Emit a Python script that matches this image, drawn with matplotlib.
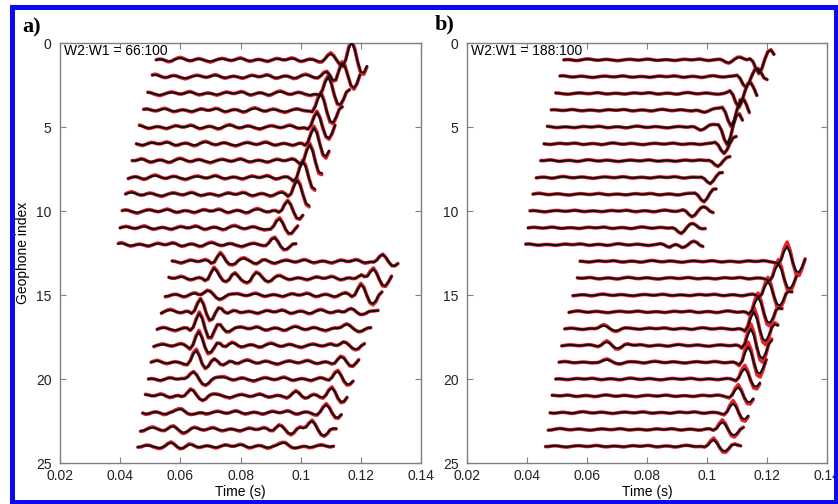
import numpy as np
import matplotlib
matplotlib.use("Agg")
import matplotlib.pyplot as plt
from matplotlib.patches import Rectangle

plt.rcParams['font.family'] = ['Liberation Sans', 'DejaVu Sans']

# data ---------------------------------------------------
DT = 0.001  # trace sampling (s)

# one wavelet, sampled every DT, peak at index 4
WAVELET = [-0.05, -0.15, 0.10, 0.65, 1.00, 0.60, -0.10, -0.65, -0.75, -0.40, 0.10, 0.28, 0.18, 0.05]
WAVELET_PEAK = 4

# small background wiggle, sampled every DT (shifted for each trace)
RIPPLE = [0.00, 0.04, 0.08, 0.05, -0.02, -0.07, -0.05, 0.00, 0.03, 0.02,
          -0.03, -0.08, -0.06, 0.01, 0.07, 0.10, 0.06, 0.00, -0.04, -0.03,
          0.02, 0.05, 0.03, -0.02, -0.06, -0.09, -0.05, 0.00, 0.04, 0.06,
          0.03, -0.01, -0.03, 0.00, 0.05, 0.08, 0.04, -0.02, -0.06, -0.04,
          0.00, 0.02, 0.00, -0.04, -0.07, -0.03, 0.02, 0.06, 0.04, 0.00]

geophones_top = list(range(1, 13))
geophones_bot = list(range(13, 25))

# panel a) W2:W1 = 66:100
a_start_top = [0.0520, 0.0507, 0.0492, 0.0478, 0.0464, 0.0454, 0.0440, 0.0427, 0.0418, 0.0407, 0.0400, 0.0394]
a_end_top = [0.1220, 0.1198, 0.1164, 0.1142, 0.1118, 0.1092, 0.1073, 0.1048, 0.1029, 0.1009, 0.0992, 0.0981]
a_event_top = [0.1173, 0.1135, 0.1095, 0.1072, 0.1057, 0.1042, 0.1026, 0.1008, 0.0986, 0.0956, 0.0928, 0.0912]
a_amp_top = [0.95, 0.90, 1.00, 1.00, 0.95, 0.90, 0.90, 0.85, 0.80, 0.70, 0.50, 0.35]

a_start_bot = [0.0573, 0.0562, 0.0550, 0.0537, 0.0523, 0.0512, 0.0503, 0.0494, 0.0484, 0.0475, 0.0468, 0.0459]
a_end_bot = [0.1320, 0.1298, 0.1274, 0.1253, 0.1231, 0.1209, 0.1192, 0.1170, 0.1153, 0.1137, 0.1114, 0.1109]
a_early_bot = [0.0737, 0.0715, 0.0693, 0.0670, 0.0664, 0.0658, 0.0653, 0.0648, 0.0631, 0.0605, 0.0580, 0.0570]
a_early_amp = [0.50, 0.60, 0.30, 0.85, 0.90, 0.80, 0.65, 0.50, 0.45, 0.20, 0.15, 0.15]
a_late_bot = [0.1276, 0.1242, 0.1198, 0.1164, 0.1153, 0.1145, 0.1137, 0.1120, 0.1103, 0.1087, 0.1042, 0.0945]
a_late_amp = [0.50, 0.70, 0.60, 0.30, 0.30, 0.25, 0.30, 0.40, 0.45, 0.35, 0.55, 0.20]

# extra smaller arrivals: (geophone, time, amplitude)
a_extra = [(1, 0.1098, 0.25), (2, 0.1085, 0.25), (13, 0.0770, 0.30), (13, 0.0815, 0.20),
           (14, 0.0750, 0.30), (14, 0.0785, 0.30), (14, 0.0850, 0.25), (14, 0.1200, 0.30),
           (16, 0.0715, 0.25), (17, 0.0710, 0.30), (18, 0.0705, 0.25), (19, 0.0700, 0.25),
           (23, 0.0930, 0.25), (21, 0.0980, 0.20)]

# panel b) W2:W1 = 188:100
b_start_top = [0.0523, 0.0510, 0.0496, 0.0481, 0.0468, 0.0457, 0.0446, 0.0431, 0.0420, 0.0410, 0.0404, 0.0396]
b_end_top = [0.1223, 0.1198, 0.1168, 0.1142, 0.1118, 0.1096, 0.1073, 0.1051, 0.1032, 0.1016, 0.0998, 0.0987]
b_event_top = [0.1170, 0.1135, 0.1102, 0.1080, 0.1063, 0.1052, 0.1036, 0.1010, 0.0986, 0.0952, 0.0919, 0.0913]
b_amp_top = [-0.80, -0.60, -0.80, -0.90, -1.00, -0.60, -0.35, -0.40, -0.45, -0.30, -0.35, -0.30]

b_start_bot = [0.0577, 0.0568, 0.0553, 0.0540, 0.0526, 0.0516, 0.0507, 0.0496, 0.0484, 0.0477, 0.0471, 0.0462]
b_end_bot = [0.1324, 0.1302, 0.1279, 0.1252, 0.1236, 0.1213, 0.1196, 0.1179, 0.1158, 0.1141, 0.1124, 0.1111]
b_event_bot = [0.1270, 0.1243, 0.1204, 0.1174, 0.1160, 0.1149, 0.1136, 0.1124, 0.1104, 0.1082, 0.1052, 0.1024]
b_amp_bot = [0.90, 0.80, 0.80, 0.90, 1.00, 1.00, 0.90, 0.60, 0.50, 0.50, 0.45, 0.40]

b_extra = [(1, 0.1070, -0.15), (4, 0.0995, -0.15), (5, 0.0975, -0.20), (17, 0.0660, 0.20),
           (18, 0.0665, 0.20), (19, 0.0665, 0.15), (12, 0.0880, -0.15)]

# red (second) trace gain per group
a_red_gain = 1.10
b_red_gain_top = 1.05
b_red_gain_bot = 1.30

x_ticks = [0.02, 0.04, 0.06, 0.08, 0.10, 0.12, 0.14]
x_labels = ['0.02', '0.04', '0.06', '0.08', '0.1', '0.12', '0.14']
y_ticks = [0, 5, 10, 15, 20, 25]
y_labels = ['0', '5', '10', '15', '20', '25']


def add_event(trace, start, t_event, amp):
    i0 = int(round((t_event - start) / DT)) - WAVELET_PEAK
    for k, w in enumerate(WAVELET):
        j = i0 + k
        if 0 <= j < len(trace):
            trace[j] += amp * w


def build_trace(geo, start, end, events, extras, ripple_scale):
    n = int(round((end - start) / DT)) + 1
    t = start + DT * np.arange(n)
    main = np.zeros(n)
    for t_ev, amp in events:
        add_event(main, start, t_ev, amp)
    for g, t_ev, amp in extras:
        if g == geo:
            add_event(main, start, t_ev, amp)
    noise = np.array([RIPPLE[(k + 7 * geo) % len(RIPPLE)] for k in range(n)]) * ripple_scale
    return t, main, noise


def draw_group(ax, geos, starts, ends, event_lists, extras, ripple_scale, red_gain):
    for idx, geo in enumerate(geos):
        events = [(ev[0][idx], ev[1][idx]) for ev in event_lists]
        t, main, noise = build_trace(geo, starts[idx], ends[idx], events, extras, ripple_scale)
        red = main * red_gain + noise * 1.35
        black = main + noise
        ax.plot(t, geo - red, color='#e8202a', lw=2.6, solid_capstyle='round', zorder=2)
        ax.plot(t, geo - black, color='#111111', lw=1.5, zorder=3)


def style_axes(ax, label_text, ylabel):
    ax.set_xlim(0.02, 0.14)
    ax.set_ylim(25, 0)
    ax.set_xticks(x_ticks)
    ax.set_xticklabels(x_labels)
    ax.set_yticks(y_ticks)
    ax.set_yticklabels(y_labels)
    ax.tick_params(direction='in', top=True, right=True, length=4, width=0.8,
                   color='#808080', labelsize=10, labelcolor='#222222')
    ax.tick_params(axis='x', pad=4)
    ax.tick_params(axis='y', pad=6)
    for s in ax.spines.values():
        s.set_color('#808080')
        s.set_linewidth(1.0)
    ax.set_xlabel('Time (s)', fontsize=10, labelpad=2)
    if ylabel:
        ax.set_ylabel('Geophone index', fontsize=10, labelpad=4)
    ax.text(0.011, 0.997, label_text, transform=ax.transAxes, va='top', ha='left', fontsize=10)


fig = plt.figure(figsize=(8.38, 5.04), dpi=100)
ax1 = fig.add_axes([0.0716, 0.0813, 0.4308, 0.8333])
ax2 = fig.add_axes([0.5573, 0.0813, 0.4296, 0.8333])

draw_group(ax1, geophones_top, a_start_top, a_end_top,
           [(a_event_top, a_amp_top)], a_extra, 1.1, a_red_gain)
draw_group(ax1, geophones_bot, a_start_bot, a_end_bot,
           [(a_early_bot, a_early_amp), (a_late_bot, a_late_amp)], a_extra, 1.1, a_red_gain)
draw_group(ax2, geophones_top, b_start_top, b_end_top,
           [(b_event_top, b_amp_top)], b_extra, 0.45, b_red_gain_top)
draw_group(ax2, geophones_bot, b_start_bot, b_end_bot,
           [(b_event_bot, b_amp_bot)], b_extra, 0.45, b_red_gain_bot)

style_axes(ax1, 'W2:W1 = 66:100', True)
style_axes(ax2, 'W2:W1 = 188:100', False)

fig.text(22 / 838, 1 - 27 / 504, 'a)', fontsize=16, fontweight='bold',
         family='Liberation Serif', va='center', ha='left')
fig.text(435 / 838, 1 - 24 / 504, 'b)', fontsize=16, fontweight='bold',
         family='Liberation Serif', va='center', ha='left')

# blue frame round the figure
fig.patches.append(Rectangle((11.5 / 838, 2.5 / 504), (835.5 - 11.5) / 838, (497.5 - 2.5) / 504,
                             transform=fig.transFigure, fill=False, edgecolor='#0a0af0',
                             linewidth=3.6, zorder=10))

fig.savefig('out.png', dpi=100)
